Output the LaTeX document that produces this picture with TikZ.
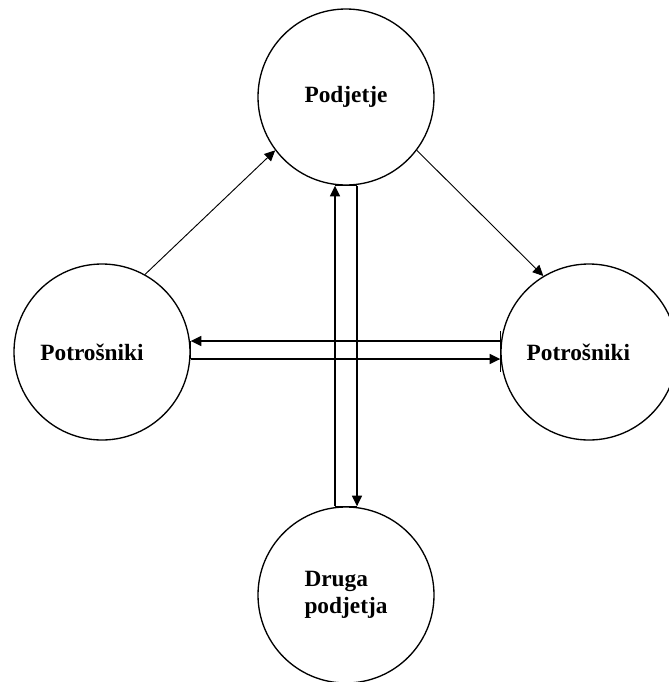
\documentclass[tikz,border=0pt]{standalone}
\usepackage{fontspec}
\setmainfont{Liberation Serif}
\usetikzlibrary{arrows.meta}
\begin{document}
\begin{tikzpicture}[x=0.75pt,y=-0.75pt]
\useasboundingbox (0,0) rectangle (668,682);
\tikzstyle{every node}=[draw,shape=circle,line width=1pt,minimum size=132pt,inner sep=0pt,font=\fontsize{17.5}{20}\selectfont\bfseries];
\tikzstyle{arr}=[-{Triangle[length=8pt,width=7.5pt]}];
\node (p) at (346,97) {Podjetje};
\node (l) at (102,352) {Potrošniki\kern15pt};
\node (r) at (589,352) {Potrošniki\kern16pt};
\node[align=left] (d) at (346,595) {Druga\\podjetja};
% diagonals
\draw[arr,line width=0.7pt] (l.61) -- (p.217);
\draw[arr,line width=0.7pt] (p.323) -- (r.121);
% vertical pair
\draw[arr,line width=1.2pt] (d.north -| 335,0) -- (p.south -| 335,0);
\draw[arr,line width=1.2pt] (p.south -| 357,0) -- (d.north -| 357,0);
\draw[line width=1.2pt] (p.south -| 335,0) -- (p.south -| 357,0)
(d.north -| 335,0) -- (d.north -| 357,0);
% horizontal pair
\draw[arr,line width=1.2pt] (r.west |- 0,341) -- (l.east |- 0,341);
\draw[arr,line width=1.2pt] (l.east |- 0,359) -- (r.west |- 0,359);
\draw[line width=1.2pt] (l.east |- 0,341) -- (l.east |- 0,359)
(r.west |- 0,331) -- (r.west |- 0,372);
\end{tikzpicture}
\end{document}
